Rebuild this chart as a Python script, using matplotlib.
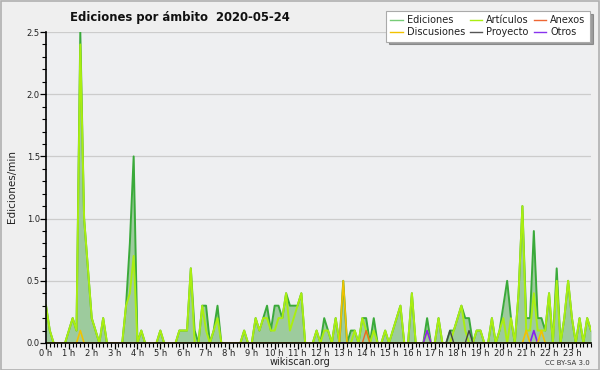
import matplotlib
matplotlib.use("Agg")
import matplotlib.pyplot as plt
from matplotlib.ticker import MultipleLocator, FixedLocator, FormatStrFormatter
from matplotlib.patches import Rectangle
from matplotlib.lines import Line2D
import numpy as np

plt.rcParams["font.family"] = ["DejaVu Sans"]

# 10-minute buckets, 144 per day (edits/min)
ediciones = [
    0.3, 0.1, 0, 0, 0, 0, 0.1, 0.2, 0.1, 2.5, 1.0, 0.6,   # 0h-1h50
    0.2, 0.1, 0, 0.2, 0, 0, 0, 0, 0, 0.3, 0.8, 1.5,       # 2h-3h50
    0, 0.1, 0, 0, 0, 0, 0.1, 0, 0, 0, 0, 0.1,             # 4h-5h50
    0.1, 0.1, 0.6, 0.1, 0, 0.3, 0.3, 0, 0.1, 0.3, 0, 0,   # 6h-7h50
    0, 0, 0, 0, 0.1, 0, 0, 0.2, 0.1, 0.2, 0.3, 0.1,       # 8h-9h50
    0.3, 0.3, 0.2, 0.4, 0.3, 0.3, 0.3, 0.4, 0, 0, 0, 0.1, # 10h-11h50
    0, 0.2, 0.1, 0, 0.2, 0, 0.5, 0, 0.1, 0.1, 0, 0.2,     # 12h-13h50
    0.2, 0, 0.2, 0, 0, 0.1, 0, 0.1, 0.2, 0.3, 0, 0,       # 14h-15h50
    0.4, 0, 0, 0, 0.2, 0, 0, 0.2, 0, 0, 0.1, 0.1,         # 16h-17h50
    0.2, 0.3, 0.2, 0.2, 0, 0.1, 0.1, 0, 0, 0.2, 0, 0.1,   # 18h-19h50
    0.3, 0.5, 0.2, 0, 0.4, 1.1, 0.2, 0.2, 0.9, 0.2, 0.2, 0.1,  # 20h-21h50
    0.4, 0, 0.6, 0, 0.2, 0.5, 0.2, 0, 0.2, 0, 0.2, 0.1,   # 22h-23h50
]
articulos = [
    0.3, 0.1, 0, 0, 0, 0, 0.1, 0.2, 0.1, 2.4, 1.0, 0.6,
    0.2, 0.1, 0, 0.2, 0, 0, 0, 0, 0, 0.3, 0.4, 0.7,
    0, 0.1, 0, 0, 0, 0, 0.1, 0, 0, 0, 0, 0.1,
    0.1, 0.1, 0.6, 0, 0, 0.3, 0.1, 0, 0.1, 0.2, 0, 0,
    0, 0, 0, 0, 0.1, 0, 0, 0.2, 0.1, 0.2, 0.2, 0.1,
    0.1, 0.2, 0.2, 0.4, 0.1, 0.2, 0.3, 0.4, 0, 0, 0, 0.1,
    0, 0.1, 0.1, 0, 0.2, 0, 0, 0, 0, 0.1, 0, 0.2,
    0.1, 0, 0.1, 0, 0, 0.1, 0, 0.1, 0.2, 0.3, 0, 0,
    0.4, 0, 0, 0, 0.1, 0, 0, 0.2, 0, 0, 0, 0.1,
    0.2, 0.3, 0.1, 0, 0, 0.1, 0.1, 0, 0, 0.2, 0, 0.1,
    0.2, 0, 0.2, 0, 0.4, 1.1, 0.1, 0.1, 0.4, 0.1, 0.1, 0.1,
    0.4, 0, 0.5, 0, 0.2, 0.5, 0.2, 0, 0.2, 0, 0.2, 0.1,
]
# sparse series: {bucket index: value}
discusiones = {9: 0.1, 78: 0.5, 126: 0.1, 130: 0.1}
anexos = {84: 0.1}
proyecto = {106: 0.1, 111: 0.1}
otros = {100: 0.1, 128: 0.1}

hour_labels = [f"{h} h" for h in range(24)]

n = len(ediciones)
x = np.arange(n) / 6.0


def dense(d):
    arr = np.zeros(n)
    for k, v in d.items():
        arr[k] = v
    return arr


BG = "#efefef"
fig = plt.figure(figsize=(6, 3.7), dpi=100, facecolor=BG)
fig.patches.append(Rectangle((0.001, 0.001), 0.997, 0.997, transform=fig.transFigure,
                             fill=False, edgecolor="#b0b0b0", linewidth=1.2))
ax = fig.add_axes([46 / 600, 1 - 343 / 370, (591 - 46) / 600, (343 - 32) / 370])
ax.set_facecolor("#eeeff1")

ed = np.array(ediciones)
ax.fill_between(x, 0, ed, color="#9dcb9d", linewidth=0, zorder=2)
ax.plot(x, ed, color="#3aaa3a", linewidth=1.4, zorder=3)
ax.plot(x, np.array(articulos), color="#aaee11", linewidth=1.4, zorder=4)
ax.plot(x, dense(proyecto), color="#444444", linewidth=1.0, zorder=5)
ax.plot(x, dense(anexos), color="#ee6622", linewidth=1.0, zorder=5)
ax.plot(x, dense(otros), color="#8822ee", linewidth=1.2, zorder=5)
ax.plot(x, dense(discusiones), color="#f2c200", linewidth=1.2, zorder=6)

ax.set_xlim(0, x[-1])
ax.set_ylim(0, 2.5)
ax.yaxis.set_major_locator(MultipleLocator(0.5))
ax.yaxis.set_minor_locator(MultipleLocator(0.1))
ax.yaxis.set_major_formatter(FormatStrFormatter("%.1f"))
ax.xaxis.set_major_locator(FixedLocator(range(24)))
ax.set_xticklabels(hour_labels)
ax.xaxis.set_minor_locator(MultipleLocator(1 / 6))
ax.tick_params(axis="both", which="major", labelsize=6, length=4, width=0.9,
               color="black", labelcolor="#222222", pad=0.5)
ax.tick_params(axis="both", which="minor", length=3, width=0.8, color="black")
ax.grid(axis="y", which="major", color="#cccccc", linewidth=0.9, zorder=0)
ax.set_axisbelow(True)
for s in ["top", "right"]:
    ax.spines[s].set_visible(False)
for s in ["left", "bottom"]:
    ax.spines[s].set_linewidth(1.2)
    ax.spines[s].set_zorder(10)

fig.text(12 / 600, 1 - 187 / 370, "Ediciones/min", rotation=90, ha="center",
         va="center", fontsize=7.5, color="#222222")
fig.text(300 / 600, 1 - 362 / 370, "wikiscan.org", ha="center", va="center",
         fontsize=7, color="#222222")

fig.text(180 / 600, 1 - 17 / 370, "Ediciones por ámbito  2020-05-24", ha="center",
         va="center", fontsize=8.4, fontweight="bold", color="#111111")
fig.text(590 / 600, 1 - 363 / 370, "CC BY-SA 3.0", ha="right", va="center",
         fontsize=5, color="#333333")

handles = [
    Line2D([], [], color="#77cc77", lw=1), Line2D([], [], color="#f2c200", lw=1),
    Line2D([], [], color="#aaee11", lw=1), Line2D([], [], color="#555555", lw=1),
    Line2D([], [], color="#ee6633", lw=1), Line2D([], [], color="#8833ee", lw=1),
]
labels = ["Ediciones", "Discusiones", "Artículos", "Proyecto", "Anexos", "Otros"]
leg = fig.legend(handles, labels, ncol=3, loc="upper right",
                 bbox_to_anchor=(590 / 600, 1 - 11 / 370), fontsize=7,
                 frameon=True, fancybox=False, shadow=True, handlelength=1.3,
                 handletextpad=0.4, columnspacing=0.5, labelspacing=0.2,
                 borderpad=0.45, borderaxespad=0)
leg.get_frame().set_edgecolor("#aaaaaa")
leg.get_frame().set_linewidth(0.8)
for t in leg.get_texts():
    t.set_color("#222222")

fig.savefig("out.png", dpi=100, facecolor=BG)
